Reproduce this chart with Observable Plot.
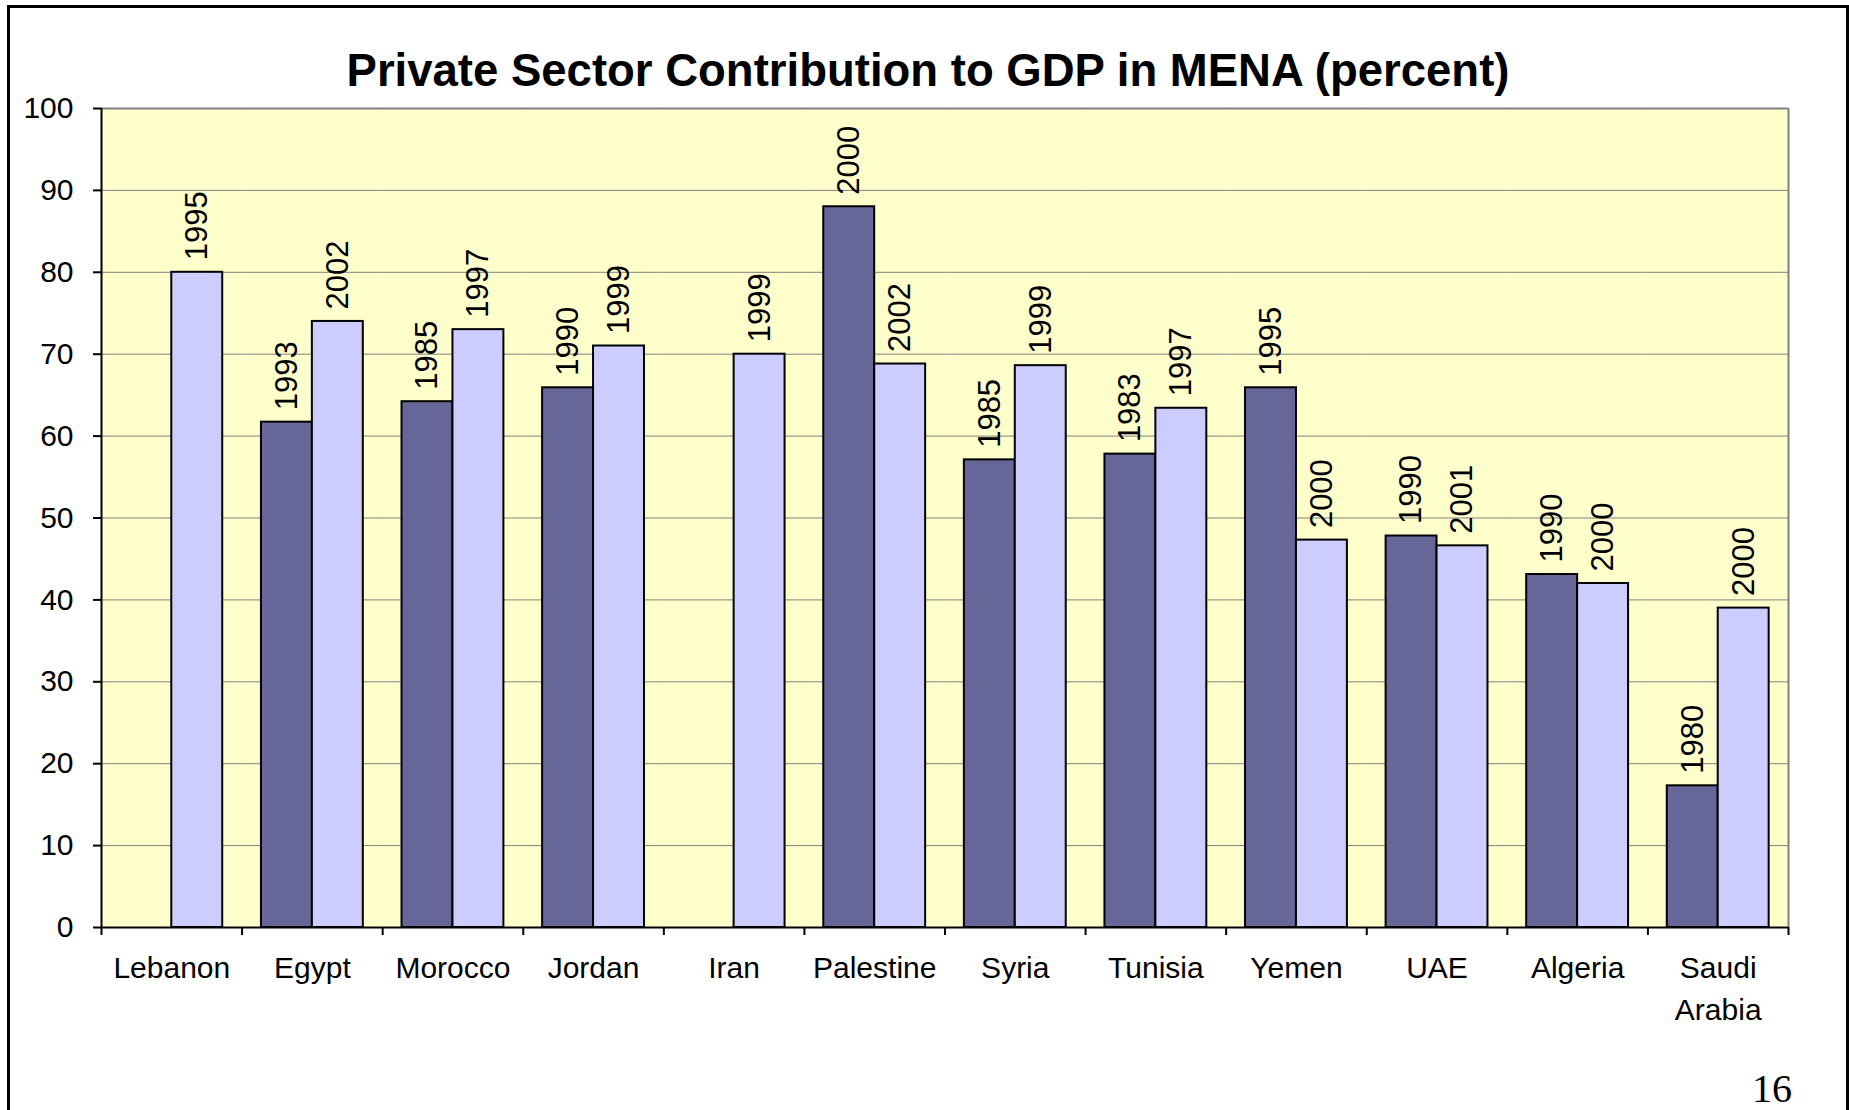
<!DOCTYPE html>
<html>
<head>
<meta charset="utf-8">
<script src="https://cdn.jsdelivr.net/npm/d3@7"></script>
<script src="https://cdn.jsdelivr.net/npm/@observablehq/plot@0.6"></script>
<style>
  html, body { margin: 0; padding: 0; background: #fff; width: 1849px; height: 1110px; overflow: hidden; position: relative; }
  #frame { position: absolute; left: 7px; top: 5px; width: 1842px; height: 1200px; box-sizing: border-box;
           border: 3px solid #000; border-bottom: none; }
  #title { position: absolute; left: 0; top: 48px; width: 1856px; text-align: center;
           font: bold 45.5px/45.5px "Liberation Sans", Arial, sans-serif; color: #000; white-space: nowrap; }
  #page { position: absolute; left: 1692px; top: 1069px; width: 100px; text-align: right;
          font: 40px/40px "Liberation Serif", "Times New Roman", serif; color: #000; }
  #chart { position: absolute; left: 0; top: 0; }
</style>
</head>
<body>
<div id="frame"></div>
<div id="chart"></div>
<div id="title">Private Sector Contribution to GDP in MENA (percent)</div>
<div id="page">16</div>
<script>
const countries = ["Lebanon", "Egypt", "Morocco", "Jordan", "Iran", "Palestine", "Syria", "Tunisia", "Yemen", "UAE", "Algeria", "Saudi Arabia"];
const earlyValues = [null, 61.7, 64.2, 65.9, null, 88.0, 57.1, 57.8, 65.9, 47.8, 43.1, 17.3];
const earlyYears  = [null, 1993, 1985, 1990, null, 2000, 1985, 1983, 1995, 1990, 1990, 1980];
const lateValues  = [80.0, 74.0, 73.0, 71.0, 70.0, 68.8, 68.6, 63.4, 47.3, 46.6, 42.0, 39.0];
const lateYears   = [1995, 2002, 1997, 1999, 1999, 2002, 1999, 1997, 2000, 2001, 2000, 2000];
const yTicks = [0, 10, 20, 30, 40, 50, 60, 70, 80, 90, 100];

const rows = [];
countries.forEach((c, i) => {
  if (earlyValues[i] != null) rows.push({country: c, series: "early", value: earlyValues[i], year: earlyYears[i]});
  if (lateValues[i] != null) rows.push({country: c, series: "late", value: lateValues[i], year: lateYears[i]});
});

const W = 1849, H = 1110, mL = 101, mR = 61, mT = 108, mB = 183;
const half = (W - mL - mR) / countries.length / 2;
const first = [countries[0]], last = [countries[countries.length - 1]];

const chart = Plot.plot({
  width: W, height: H,
  marginLeft: mL, marginRight: mR, marginTop: mT, marginBottom: mB,
  style: {fontFamily: "'Liberation Sans', Arial, sans-serif", background: "none", color: "#000", overflow: "visible"},
  fx: {domain: countries, padding: 0, round: false, label: null, axis: null},
  x: {domain: ["early", "late"], paddingInner: 0, paddingOuter: 0.38, round: false, axis: null},
  y: {domain: [0, 100], label: null, axis: null},
  color: {domain: ["early", "late"], range: ["#666699", "#CCCCFF"]},
  marks: [
    Plot.frame({fill: "#FFFFCC", shapeRendering: "crispEdges"}),
    Plot.gridY({ticks: yTicks, stroke: "#808080", strokeOpacity: 1, strokeWidth: 1}),
    Plot.ruleY([100], {stroke: "#808080", strokeWidth: 2}),
    Plot.ruleX(last, {fx: d => d, x: null, y1: 0, y2: 100, dx: half, stroke: "#808080", strokeWidth: 2}),
    Plot.barY(rows, {fx: "country", x: "series", y: "value", fill: "series", stroke: "#000", strokeWidth: 2, insetLeft: 0, insetRight: 0}),
    Plot.text(rows, {fx: "country", x: "series", y: "value", text: d => String(d.year), rotate: -90, textAnchor: "start", dy: -12, fontSize: 31, fill: "#000"}),
    Plot.ruleY([0], {stroke: "#000", strokeWidth: 2}),
    Plot.ruleX(first, {fx: d => d, x: null, y1: 0, y2: 100, dx: -half, stroke: "#000", strokeWidth: 2}),
    Plot.ruleX(countries, {fx: d => d, x: null, y1: 0, y2: 0, insetBottom: -8, dx: -half, stroke: "#000", strokeWidth: 2}),
    Plot.ruleX(last, {fx: d => d, x: null, y1: 0, y2: 0, insetBottom: -8, dx: half, stroke: "#000", strokeWidth: 2}),
    Plot.axisY({ticks: yTicks, tickSize: 8, tickPadding: 20, fontSize: 30, strokeWidth: 2, label: null, fill: "#000"}),
    Plot.axisFx({anchor: "bottom", tickSize: 0, tickPadding: 21, fontSize: 30, lineHeight: 1.39, label: null, fill: "#000",
                 tickFormat: d => d.replace(" ", "\n")})
  ]
});
document.getElementById("chart").appendChild(chart);
</script>
</body>
</html>
